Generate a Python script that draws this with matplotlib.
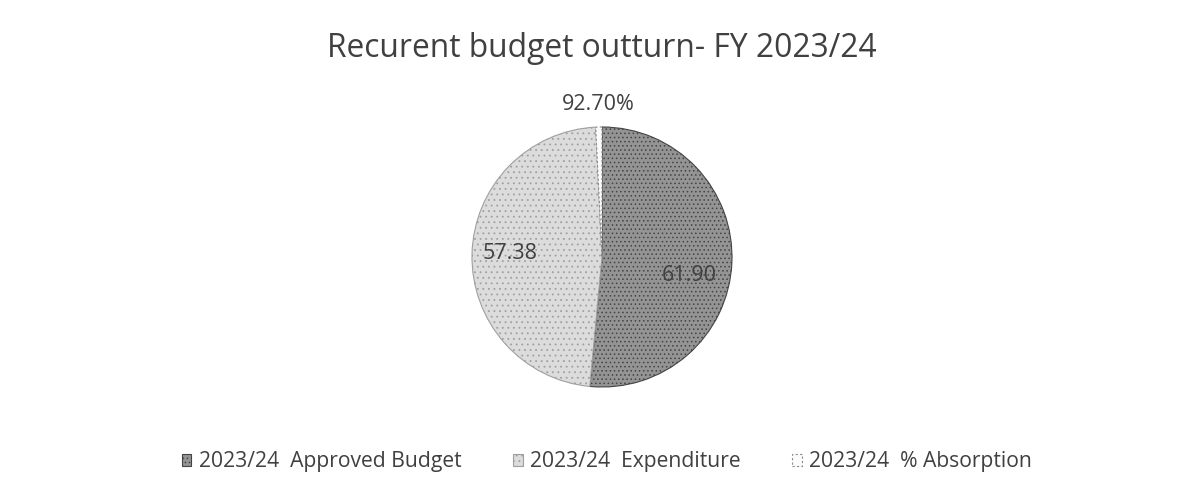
import numpy as np
import matplotlib
matplotlib.use("Agg")
import matplotlib.pyplot as plt

# Recurrent budget outturn, FY 2023/24 (UGX bn)
categories = ["2023/24  Approved Budget", "2023/24  Expenditure", "2023/24  % Absorption"]
values = [61.90, 57.38, 0.927]
label_texts = [f"{values[0]:.2f}", f"{values[1]:.2f}", f"{values[2]:.2%}"]
title = "Recurent budget outturn- FY 2023/24"

_FACE = ["#949494", "#dcdcdc", "#fbfbfb"]
_EDGE = ["#444444", "#a0a0a0", "#8a8a8a"]
_HATCH = ["....", "...", ""]
_TEXT = "#404040"

plt.rcParams.update({
    "font.family": ["Open Sans", "DejaVu Sans"],
    "hatch.linewidth": 0.6,
})

W, H = 1178, 495
fig = plt.figure(figsize=(W / 100, H / 100), dpi=100)
fig.patch.set_facecolor("white")
renderer = fig.canvas.get_renderer()


def _fit_size(txt, width_px, base=12.0):
    """Font size (pt) at which txt renders width_px pixels wide."""
    t = fig.text(0, 0, txt, fontsize=base)
    w = t.get_window_extent(renderer).width
    t.remove()
    return base * width_px / w


# pie axes sized so the radius is ~130 px around (602, 257)
cx, cy, r = 602, 257, 130
ax = fig.add_axes([(cx - r) / W, (H - cy - r) / H, 2 * r / W, 2 * r / H])
wedges, _ = ax.pie(values, startangle=90, counterclock=False, radius=1.0,
                   colors=_FACE, wedgeprops={"linewidth": 0.8})
for w, fc, ec, hatch in zip(wedges, _FACE, _EDGE, _HATCH):
    w.set_facecolor(fc)
    w.set_edgecolor(ec)
    w.set_hatch(hatch)
wedges[2].set_linestyle((0, (2, 2)))
ax.set_xlim(-1, 1)
ax.set_ylim(-1, 1)
ax.set_aspect("equal")
ax.axis("off")

# data labels: radius fraction and angular nudge per slice
label_size = _fit_size("57.38", 55)
label_r = [0.69, 0.71, 1.17]
label_shift = [-9.5, -1, 0]
for w, txt, lr, sh in zip(wedges, label_texts, label_r, label_shift):
    mid = np.deg2rad((w.theta1 + w.theta2) / 2 + sh)
    ax.text(lr * np.cos(mid), lr * np.sin(mid), txt, ha="center", va="center",
            fontsize=label_size, color=_TEXT, clip_on=False)

fig.text(602 / W, 1 - 57 / H, title, ha="center", va="baseline",
         fontsize=_fit_size(title, 549), color=_TEXT)

leg_size = _fit_size(categories[0], 262)
fig.legend(wedges, categories, loc="center", bbox_to_anchor=(607 / W, 1 - 462 / H),
           ncol=3, frameon=False, fontsize=leg_size, labelcolor=_TEXT,
           handlelength=0.45, handleheight=0.45, handletextpad=0.35,
           columnspacing=2.45)

fig.savefig("out.png", dpi=100, facecolor="white")
